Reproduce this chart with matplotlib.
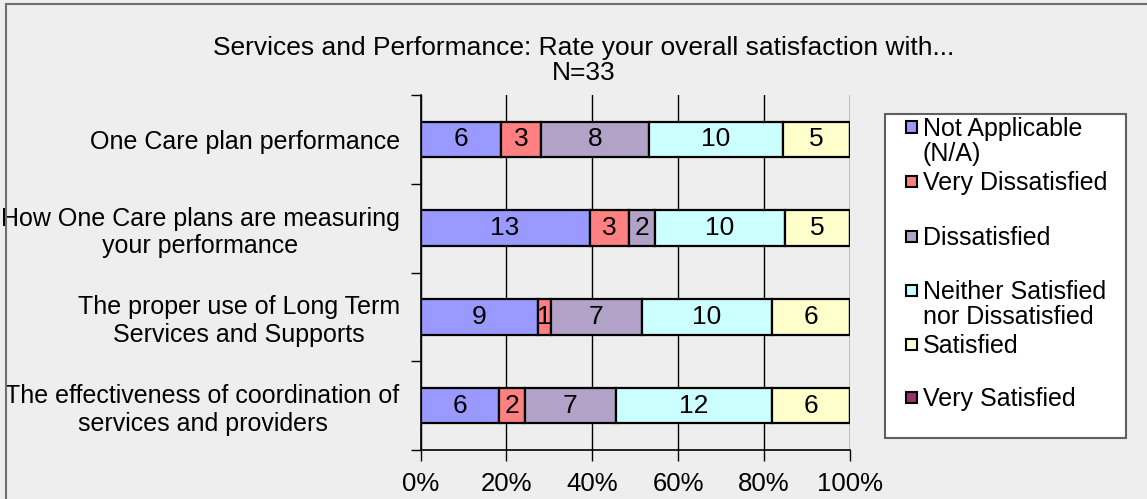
import matplotlib
matplotlib.use("Agg")
import matplotlib.pyplot as plt
from matplotlib.patches import Rectangle
import numpy as np

plt.rcParams['font.family'] = ['Liberation Sans', 'DejaVu Sans']

categories = [
    "One Care plan performance",
    "How One Care plans are measuring\nyour performance",
    "The proper use of Long Term\nServices and Supports",
    "The effectiveness of coordination of\nservices and providers",
]
series_names = [
    "Not Applicable\n(N/A)",
    "Very Dissatisfied",
    "Dissatisfied",
    "Neither Satisfied\nnor Dissatisfied",
    "Satisfied",
    "Very Satisfied",
]
not_applicable = [6, 13, 9, 6]
very_dissatisfied = [3, 3, 1, 2]
dissatisfied = [8, 2, 7, 7]
neither = [10, 10, 10, 12]
satisfied = [5, 5, 6, 6]
very_satisfied = [0, 0, 0, 0]
colors = ["#9999FF", "#FF8080", "#B3A2C7", "#CCFFFF", "#FFFFCC", "#993366"]
xtick_labels = ["0%", "20%", "40%", "60%", "80%", "100%"]

FS = 18
W, H = 1147, 499
fig = plt.figure(figsize=(W / 100, H / 100), dpi=100)
fig.patch.set_facecolor("#EEEEEE")

# outer border
fig.add_artist(Rectangle((6 / W, -0.05), 1.2, 1.05 - 4 / H, transform=fig.transFigure,
                         fill=False, edgecolor="#707070", linewidth=1.5))

ax = fig.add_axes([420.5 / W, 1 - 450 / H, (850 - 420.5) / W, (450 - 95) / H])
ax.set_facecolor("#EEEEEE")

data = np.array([not_applicable, very_dissatisfied, dissatisfied, neither, satisfied, very_satisfied], dtype=float)
totals = data.sum(axis=0)
pct = data / totals * 100
y = np.arange(len(categories))

left = np.zeros(len(categories))
for i in range(len(series_names)):
    vals = pct[i]
    bars = ax.barh(y, vals, left=left, height=0.4, color=colors[i], edgecolor="black",
                   linewidth=1.6, zorder=3)
    for j, b in enumerate(bars):
        if data[i, j] > 0:
            ax.text(left[j] + vals[j] / 2, y[j], f"{int(data[i, j])}", ha="center", va="center",
                    fontsize=19, color="black", zorder=4)
    left = left + vals

ax.set_xlim(0, 100)
ax.set_ylim(len(categories) - 0.5, -0.5)
ax.set_xticks(np.arange(0, 101, 20))
ax.set_xticklabels(xtick_labels, fontsize=18.5)
ax.set_yticks(y)
ax.set_yticklabels(categories, fontsize=FS, multialignment="center")
ax.tick_params(axis="y", length=0, pad=15)
ax.set_yticks(np.arange(-0.5, len(categories), 1), minor=True)
ax.tick_params(axis="y", which="minor", length=7, width=1, color="black")
ax.tick_params(axis="x", length=8, width=1, color="black", pad=8)
ax.grid(axis="x", color="black", linewidth=1, zorder=0)
for s in ["top", "right"]:
    ax.spines[s].set_visible(False)
ax.spines["left"].set_linewidth(1.2)
ax.spines["bottom"].set_linewidth(1.2)

fig.text(584 / W, 1 - 48 / H, "Services and Performance: Rate your overall satisfaction with...",
         ha="center", va="center", fontsize=19)
fig.text(584 / W, 1 - 73 / H, "N=33", ha="center", va="center", fontsize=19)

# legend box
lx0, ly0, lx1, ly1 = 885, 114, 1126, 438
fig.add_artist(Rectangle((lx0 / W, 1 - ly1 / H), (lx1 - lx0) / W, (ly1 - ly0) / H,
                         transform=fig.transFigure, facecolor="white", edgecolor="#606060",
                         linewidth=1.5))
marker_y = [127, 181, 236, 290, 344, 397]
for name, c, my in zip(series_names, colors, marker_y):
    fig.add_artist(Rectangle((906 / W, 1 - (my + 5.5) / H), 11 / W, 11 / H,
                             transform=fig.transFigure, facecolor=c, edgecolor="black",
                             linewidth=1.5))
    fig.text(923 / W, 1 - (my - 10) / H, name, ha="left", va="top", fontsize=FS,
             linespacing=1.05)

fig.savefig("out.png", dpi=100, facecolor=fig.get_facecolor())
